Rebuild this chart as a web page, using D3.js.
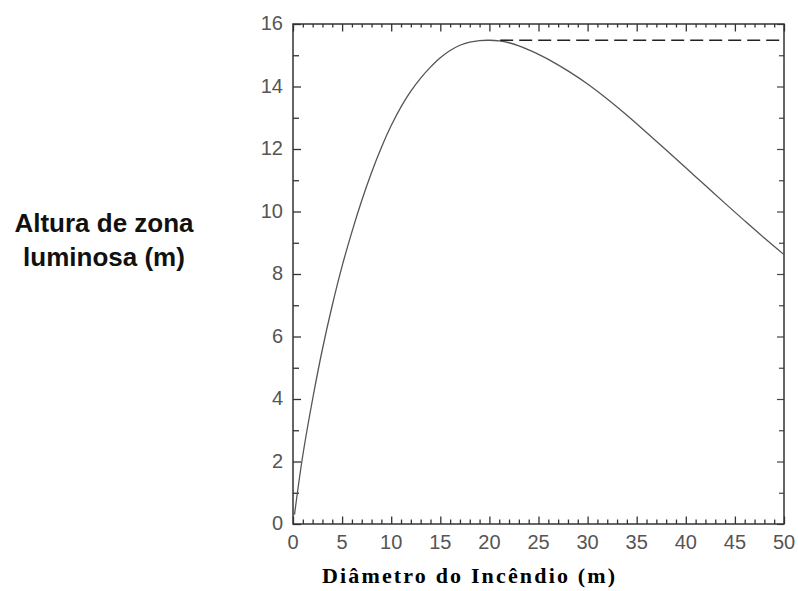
<!DOCTYPE html>
<html>
<head>
<meta charset="utf-8">
<script src="https://cdn.jsdelivr.net/npm/d3@7"></script>
<style>
  body { margin: 0; background: #fff; }
  svg { display: block; }
</style>
</head>
<body>
<div id="chart"></div>
<script>
// diameter of the fire (m) and height of the luminous zone (m)
const diameter = [0.15, 1, 2, 3, 4, 5, 6, 7, 8, 9, 10, 11, 12, 13, 14, 15, 16, 17, 18, 19, 20,
    21, 22, 23, 24, 25, 26, 28, 30, 32, 34, 36, 38, 40, 42, 44, 46, 48, 50];
const height = [0.3, 2.2, 4.0, 5.6, 7.0, 8.25, 9.35, 10.35, 11.25, 12.05, 12.75, 13.35, 13.85,
    14.27, 14.62, 14.92, 15.15, 15.32, 15.42, 15.47, 15.48, 15.46, 15.40, 15.30, 15.17, 15.03, 14.87,
    14.50, 14.08, 13.6, 13.08, 12.53, 11.97, 11.4, 10.83, 10.26, 9.7, 9.15, 8.62];
// dashed horizontal line at the maximum
const maxLineX = [21.1, 50];
const maxLineY = [15.48, 15.48];

const xTicks = [0, 5, 10, 15, 20, 25, 30, 35, 40, 45, 50];
const yTicks = [0, 2, 4, 6, 8, 10, 12, 14, 16];

function init() {
    let margin = { top: 24, right: 14, bottom: 67, left: 293 },
        width = 798 - margin.left - margin.right,
        h = 591 - margin.top - margin.bottom;

    let svg = d3.select("#chart")
        .append("svg")
        .attr("width", 798)
        .attr("height", 591);

    let g = svg.append("g")
        .attr("transform", "translate(" + margin.left + "," + margin.top + ")");

    let x = d3.scaleLinear().domain([0, 50]).range([0, width]);
    let y = d3.scaleLinear().domain([0, 16]).range([h, 0]);

    // ticks: minor every 1 on both axes
    let xMinor = d3.range(0, 51, 1);
    let yMinor = d3.range(0, 17, 1);

    // bottom and top ticks (pointing inside)
    g.append("g")
        .call(d3.axisTop(x).tickValues(xMinor).tickSize(0).tickFormat(""))
        .call(a => a.select(".domain").remove())
        .selectAll(".tick line")
        .attr("y1", h)
        .attr("y2", d => h - (d % 5 === 0 ? 7.5 : 4.5))
        .attr("stroke", "#333")
        .attr("stroke-width", 1.3);
    g.append("g")
        .call(d3.axisBottom(x).tickValues(xMinor).tickSize(0).tickFormat(""))
        .call(a => a.select(".domain").remove())
        .selectAll(".tick line")
        .attr("y1", 0)
        .attr("y2", d => (d % 5 === 0 ? 7.5 : 3.5))
        .attr("stroke", "#333")
        .attr("stroke-width", 1.3);

    // left and right ticks
    g.append("g")
        .call(d3.axisRight(y).tickValues(yMinor).tickSize(0).tickFormat(""))
        .call(a => a.select(".domain").remove())
        .selectAll(".tick line")
        .attr("x1", 0)
        .attr("x2", d => (d % 2 === 0 ? 8 : 6))
        .attr("stroke", "#333")
        .attr("stroke-width", 1.3);
    g.append("g")
        .call(d3.axisLeft(y).tickValues(yMinor).tickSize(0).tickFormat(""))
        .call(a => a.select(".domain").remove())
        .selectAll(".tick line")
        .attr("x1", width)
        .attr("x2", d => width - (d % 2 === 0 ? 7 : 5))
        .attr("stroke", "#444")
        .attr("stroke-width", 1.2);

    // frame
    g.append("rect")
        .attr("x", 0).attr("y", 0)
        .attr("width", width).attr("height", h)
        .attr("fill", "none")
        .attr("stroke", "#333")
        .attr("stroke-width", 1.5);

    // tick labels
    g.append("g")
        .selectAll("text")
        .data(xTicks)
        .join("text")
        .attr("x", d => x(d))
        .attr("y", h + 25)
        .attr("text-anchor", "middle")
        .attr("font-family", "Liberation Sans, Arial, sans-serif")
        .attr("font-size", 20)
        .attr("fill", "#555")
        .text(d => d);

    g.append("g")
        .selectAll("text")
        .data(yTicks)
        .join("text")
        .attr("x", -10)
        .attr("y", d => y(d) - 1)
        .attr("dy", "0.35em")
        .attr("text-anchor", "end")
        .attr("font-family", "Liberation Sans, Arial, sans-serif")
        .attr("font-size", 20)
        .attr("fill", "#555")
        .text(d => d);

    // the curve
    let pts = diameter.map((d, i) => [d, height[i]]);
    let line = d3.line()
        .x(d => x(d[0]))
        .y(d => y(d[1]))
        .curve(d3.curveCatmullRom);

    g.append("path")
        .datum(pts)
        .attr("d", line)
        .attr("fill", "none")
        .attr("stroke", "#555")
        .attr("stroke-width", 1.3);

    // dashed maximum line
    g.append("path")
        .datum(maxLineX.map((d, i) => [d, maxLineY[i]]))
        .attr("d", d3.line().x(d => x(d[0])).y(d => y(d[1])))
        .attr("fill", "none")
        .attr("stroke", "#222")
        .attr("stroke-width", 1.6)
        .attr("stroke-dasharray", "13,6");

    // axis titles
    svg.append("text")
        .attr("x", 322)
        .attr("y", 583)
        .attr("font-family", "Liberation Serif, Times New Roman, serif")
        .attr("font-weight", "bold")
        .attr("font-size", 22)
        .attr("fill", "#000")
        .attr("textLength", 293)
        .attr("lengthAdjust", "spacing")
        .text("Diâmetro do Incêndio (m)");

    let yt = svg.append("text")
        .attr("text-anchor", "middle")
        .attr("font-family", "Liberation Sans, Arial, sans-serif")
        .attr("font-weight", "bold")
        .attr("font-size", 26)
        .attr("fill", "#111");
    yt.append("tspan").attr("x", 104).attr("y", 232).text("Altura de zona");
    yt.append("tspan").attr("x", 104).attr("y", 266).text("luminosa (m)");
}

window.addEventListener('load', init);
</script>
</body>
</html>
